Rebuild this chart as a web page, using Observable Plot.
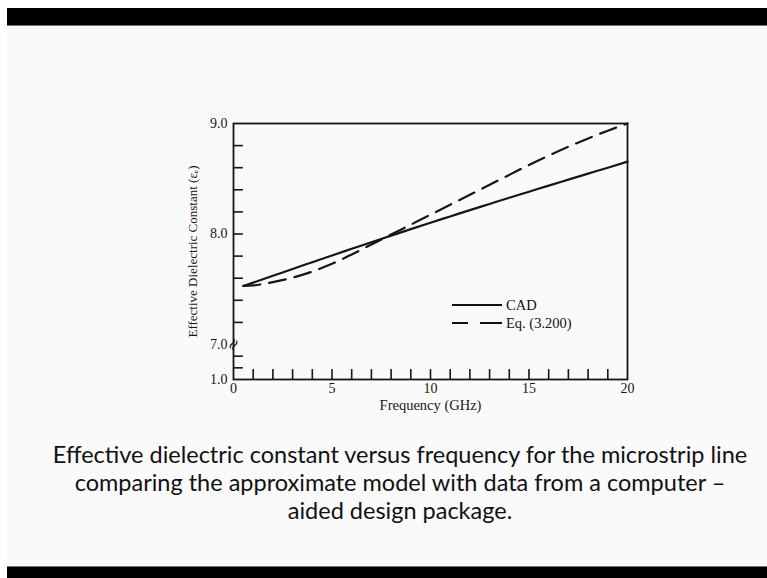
<!DOCTYPE html>
<html>
<head>
<meta charset="utf-8">
<script src="https://cdn.jsdelivr.net/npm/d3@7"></script>
<script src="https://cdn.jsdelivr.net/npm/@observablehq/plot@0.6"></script>
<style>
  html, body { margin: 0; padding: 0; }
  body { width: 767px; height: 578px; background: #ffffff; position: relative; overflow: hidden; font-family: "Liberation Serif", serif; }
  #slide { position: absolute; left: 7px; top: 8px; width: 760px; height: 570px; background: #fafafa; }
  #topbar { position: absolute; left: 7px; top: 8px; width: 760px; height: 17px; background: #000; border-bottom: 1px solid #777; }
  #botbar { position: absolute; left: 7px; top: 566px; width: 760px; height: 12px; background: #000; border-top: 1px solid #777; }
  #chart { position: absolute; left: 0; top: 100px; }
  #legend { position: absolute; left: 0; top: 0; }
  #caption { position: absolute; left: 0px; width: 800px; top: 440px; text-align: center; font-family: Lato, "Open Sans", sans-serif; font-size: 23.5px; line-height: 28px; color: #111; }
</style>
</head>
<body>
<div id="slide"></div>
<div id="topbar"></div>
<div id="botbar"></div>
<div id="chart"></div>
<svg id="legend" width="767" height="578" style="pointer-events:none">
  <g font-family="Liberation Serif, serif" font-size="14.5" fill="#111">
    <line x1="452" x2="502" y1="305" y2="305" stroke="#111" stroke-width="2"></line>
    <text x="506" y="310">CAD</text>
    <line x1="452" x2="502" y1="323" y2="323" stroke="#111" stroke-width="2" stroke-dasharray="16,12,22"></line>
    <text x="506" y="328">Eq. (3.200)</text>
  </g>
</svg>
<div id="caption">Effective dielectric constant versus frequency for the microstrip line<br>comparing the approximate model with data from a computer –<br>aided design package.</div>
<script>
// Frequency (GHz)
const freq = [0.5, 1, 2, 3, 4, 5, 6, 7, 8, 9, 10, 11, 12, 13, 14, 15, 16, 17, 18, 19, 20];
// CAD curve
const cad = [7.53, 7.56, 7.622, 7.684, 7.745, 7.806, 7.866, 7.926, 7.985, 8.044, 8.102, 8.159, 8.216, 8.272, 8.328, 8.383, 8.438, 8.492, 8.546, 8.6, 8.655];
// Eq. (3.200) curve
const eq = [7.53, 7.535, 7.565, 7.605, 7.66, 7.73, 7.815, 7.905, 7.995, 8.085, 8.175, 8.265, 8.355, 8.445, 8.535, 8.625, 8.71, 8.79, 8.865, 8.935, 9.0];
// axes
const xTickLabels = [0, 5, 10, 15, 20];
const xMinorTicks = [1, 2, 3, 4, 5, 6, 7, 8, 9, 10, 11, 12, 13, 14, 15, 16, 17, 18, 19];
const yTickLabels = [1.0, 7.0, 8.0, 9.0];
const yMinorTicks = [3, 5, 7.2, 7.4, 7.6, 7.8, 8.0, 8.2, 8.4, 8.6, 8.8];
const yBreak = [7.0];
const yDomain = [1, 7, 9];
const xTitle = "Frequency (GHz)";
const yTitle = "Effective Dielectric Constant (ε\u2091)";

const cadData = freq.map((f, i) => ({f, v: cad[i]}));
const eqData = freq.map((f, i) => ({f, v: eq[i]}));

const ink = "#161616";
const font = "Liberation Serif, serif";

const chart = Plot.plot({
  width: 767,
  height: 320,
  marginLeft: 233,
  marginRight: 140,
  marginTop: 23,
  marginBottom: 41,
  style: {background: "transparent", fontFamily: font},
  x: {domain: [0, 20]},
  y: {type: "linear", domain: yDomain, range: [279, 244, 23]},
  marks: [
    Plot.axisX({ticks: xTickLabels, tickSize: 0, tickPadding: 4, fontSize: 14, fill: ink, label: null, tickFormat: d => String(d), fontFamily: font}),
    Plot.axisY({ticks: yTickLabels, tickSize: 0, tickPadding: 6, fontSize: 14, fill: ink, label: null, tickFormat: d3.format(".1f"), fontFamily: font}),
    Plot.ruleY(yMinorTicks, {y: d => d, x1: () => 0, x2: () => 0.5, stroke: ink, strokeWidth: 1.6}),
    Plot.ruleX(xMinorTicks, {x: d => d, y1: () => 1, y2: () => 2.7, stroke: ink, strokeWidth: 1.6}),
    Plot.frame({stroke: ink, strokeWidth: 1.8}),
    Plot.text(yBreak, {x: () => 0, y: d => d, text: () => "≈", rotate: -60, fontSize: 16, fill: ink, fontFamily: "DejaVu Sans"}),
    Plot.line(cadData, {x: "f", y: "v", stroke: ink, strokeWidth: 2.2, curve: "monotone-x"}),
    Plot.line(eqData, {x: "f", y: "v", stroke: ink, strokeWidth: 2.2, strokeDasharray: "17,9", curve: "monotone-x"}),
    Plot.text([xTitle], {text: d => d, frameAnchor: "bottom", dy: 30, fontSize: 14.5, fill: ink, fontFamily: font}),
    Plot.text([yTitle], {text: d => d, frameAnchor: "left", textAnchor: "middle", dx: -41, rotate: -90, fontSize: 13, fill: ink, fontFamily: font})
  ]
});
document.getElementById("chart").appendChild(chart);
</script>
</body>
</html>
